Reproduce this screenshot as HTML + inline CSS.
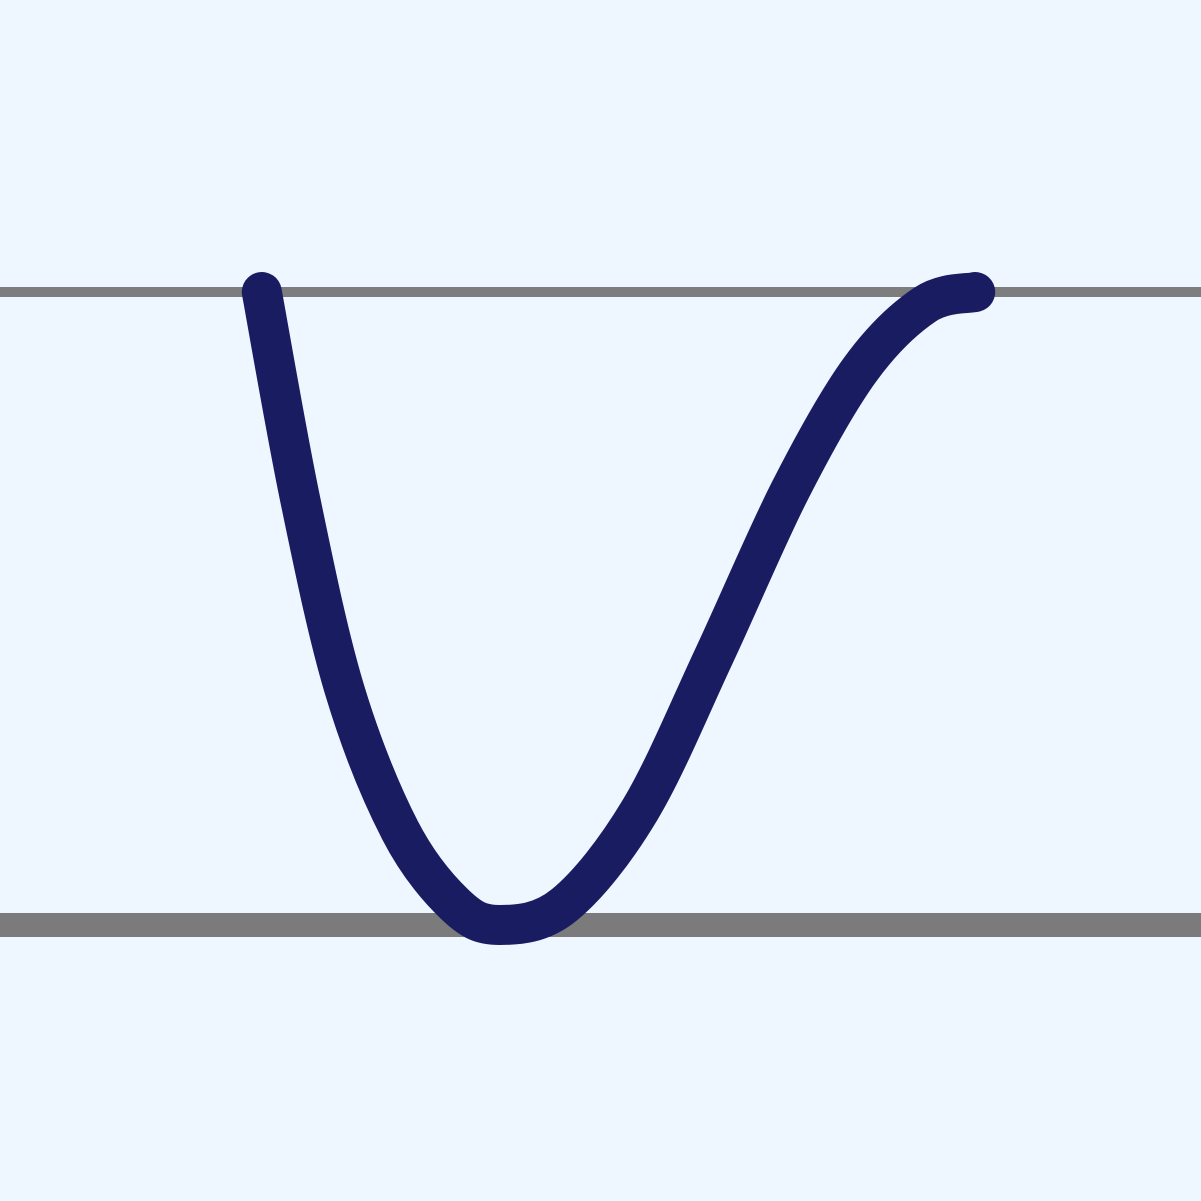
<!DOCTYPE html>
<html>
<head>
<meta charset="utf-8">
<style>
html,body{margin:0;padding:0;background:#eef6ff;}
svg{display:block;}
</style>
</head>
<body>
<svg id="chart" width="1201" height="1201" viewBox="0 0 1201 1201" xmlns="http://www.w3.org/2000/svg">
<rect x="0" y="0" width="1201" height="1201" fill="#eef6ff"/>
<line x1="0" y1="292" x2="1201" y2="292" stroke="#7d7d7d" stroke-width="10"/>
<line x1="0" y1="925" x2="1201" y2="925" stroke="#7b7b7b" stroke-width="24"/>
</svg>
<script>
const xValues = [21.8, 25.0, 28.7, 33.3, 37.9, 41.6, 47.0, 53.3, 59.5, 65.8, 71.6, 77.0, 81.2];
const yValues = [1.0, 0.672, 0.371, 0.150, 0.032, 0.0, 0.032, 0.182, 0.427, 0.687, 0.877, 0.980, 1.0];
function xScale(v){ return v * 12.01; }
function yScale(v){ return 925 - v * 633; }
const pts = xValues.map((x,i)=>[xScale(x), yScale(yValues[i])]);
let d = 'M' + pts[0][0] + ' ' + pts[0][1];
for (let i = 0; i < pts.length - 1; i++) {
  const p0 = pts[i-1] || pts[i], p1 = pts[i], p2 = pts[i+1], p3 = pts[i+2] || p2;
  const c1 = [p1[0] + (p2[0]-p0[0])/6, p1[1] + (p2[1]-p0[1])/6];
  const c2 = [p2[0] - (p3[0]-p1[0])/6, p2[1] - (p3[1]-p1[1])/6];
  d += ' C' + c1.join(' ') + ' ' + c2.join(' ') + ' ' + p2.join(' ');
}
const path = document.createElementNS('http://www.w3.org/2000/svg','path');
path.setAttribute('d', d);
path.setAttribute('fill', 'none');
path.setAttribute('stroke', '#1a1c62');
path.setAttribute('stroke-width', '40');
path.setAttribute('stroke-linecap', 'round');
path.setAttribute('stroke-linejoin', 'round');


document.getElementById('chart').appendChild(path);
</script>
</body>
</html>
